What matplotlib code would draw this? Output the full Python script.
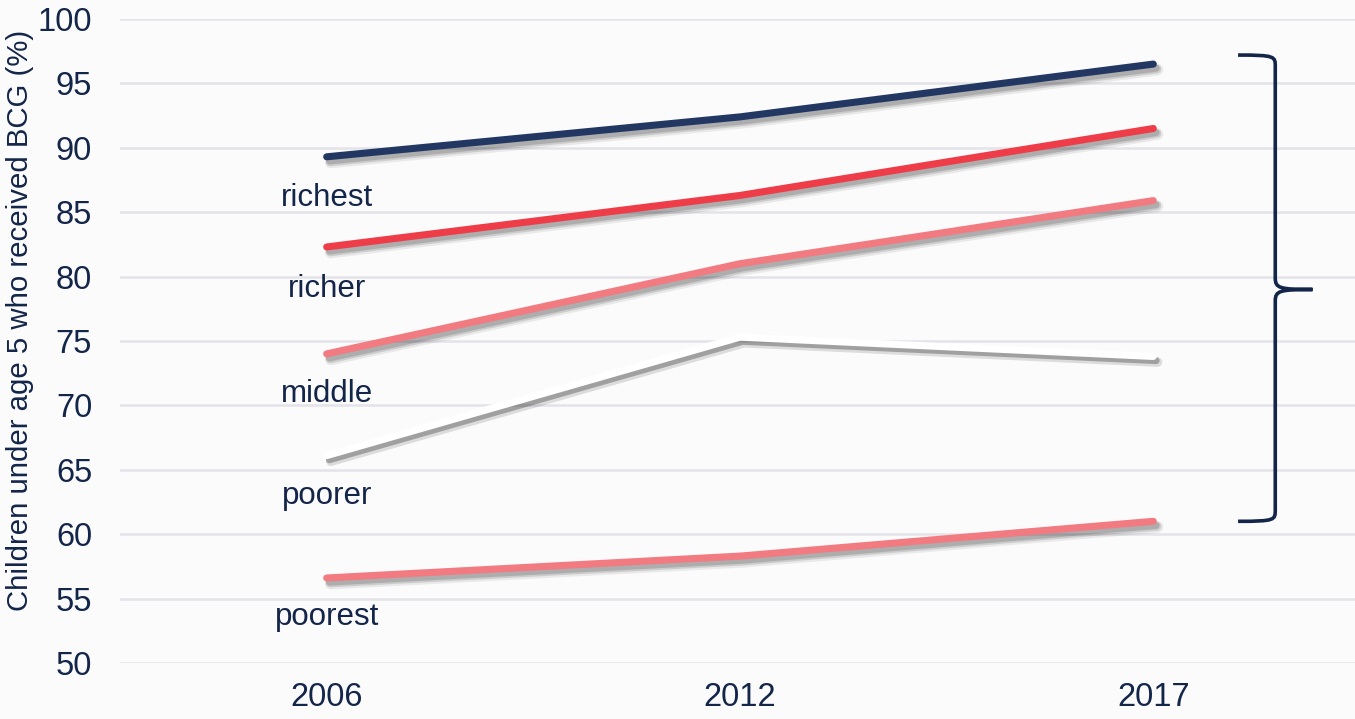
import matplotlib
matplotlib.use("Agg")
import matplotlib.pyplot as plt
from matplotlib import patheffects as pe
from matplotlib.path import Path
from matplotlib.patches import PathPatch

years = ["2006", "2012", "2017"]
groups = ["richest", "richer", "middle", "poorer", "poorest"]
richest = [89.3, 92.4, 96.5]
richer = [82.3, 86.3, 91.5]
middle = [74.0, 81.0, 85.9]
poorer = [66.1, 75.3, 73.8]
poorest = [56.6, 58.3, 61.0]
yticks = [50, 55, 60, 65, 70, 75, 80, 85, 90, 95, 100]

series = [richest, richer, middle, poorer, poorest]
colors = ["#223862", "#ee3d48", "#f27b81", "#ffffff", "#f27b81"]
# label y positions (data units) under the 2006 point of each line
label_y = [86.1, 79.0, 70.9, 63.0, 53.6]

text_color = "#14254a"
bg = "#fbfbfc"
plt.rcParams["font.family"] = ["Liberation Sans", "DejaVu Sans"]

fig = plt.figure(figsize=(13.55, 7.19), dpi=100, facecolor=bg)
ax = fig.add_axes([120 / 1355, 56 / 719, 1240 / 1355, 644 / 719])
ax.set_facecolor(bg)
ax.set_xlim(-0.5, 2.5)
ax.set_ylim(50, 100)
ax.set_yticks(yticks)
ax.set_xticks(range(len(years)))
ax.set_xticklabels(years)
ax.tick_params(axis="both", length=0, labelsize=23.5, labelcolor=text_color)
ax.tick_params(axis="y", pad=20)
ax.tick_params(axis="x", pad=14)
for s in ax.spines.values():
    s.set_visible(False)
ax.yaxis.grid(True, color="#e3e3e9", linewidth=1.8)
ax.set_axisbelow(True)
fig.text(20 / 1355, 399 / 719, "Children under age 5 who received BCG (%)",
         rotation=90, ha="center", va="center", fontsize=21.2, color=text_color)

shadow = [
    pe.SimpleLineShadow(offset=(3, -4), shadow_color="#000000", alpha=0.07, linewidth=8.5),
    pe.SimpleLineShadow(offset=(2.5, -3.5), shadow_color="#000000", alpha=0.12, linewidth=6.5),
    pe.SimpleLineShadow(offset=(2, -3), shadow_color="#000000", alpha=0.15, linewidth=5),
]
x = list(range(len(years)))
for vals, c in zip(series, colors):
    effects = list(shadow)
    if c == "#ffffff":
        effects = [
            pe.SimpleLineShadow(offset=(3, -4), shadow_color="#000000", alpha=0.12, linewidth=7),
            pe.SimpleLineShadow(offset=(2, -3), shadow_color="#000000", alpha=0.27, linewidth=5),
        ]
    ax.plot(x, vals, color=c, linewidth=5.1, solid_capstyle="round",
            solid_joinstyle="round", zorder=3,
            path_effects=effects + [pe.Normal()])

for name, yl in zip(groups, label_y):
    ax.text(0, yl, name, ha="center", va="center", fontsize=22.5, color=text_color)

# curly brace spanning the upper groups
top, bot = 97.2, 61.0
mid = 79.0
x0, x1, x2 = 2.205, 2.295, 2.385
r = 0.9
verts = [
    (x0, top), (x1, top), (x1, top - 0.1), (x1, top - r),
    (x1, mid + r),
    (x1, mid + 0.1), (x1 + 0.01, mid), (x2, mid),
    (x1 + 0.01, mid), (x1, mid - 0.1), (x1, mid - r),
    (x1, bot + r),
    (x1, bot + 0.1), (x1, bot), (x0, bot),
]
codes = [
    Path.MOVETO, Path.CURVE4, Path.CURVE4, Path.CURVE4,
    Path.LINETO,
    Path.CURVE4, Path.CURVE4, Path.CURVE4,
    Path.CURVE4, Path.CURVE4, Path.CURVE4,
    Path.LINETO,
    Path.CURVE4, Path.CURVE4, Path.CURVE4,
]
brace = PathPatch(Path(verts, codes), facecolor="none", edgecolor=text_color,
                  linewidth=2.6, clip_on=False, zorder=4)
ax.add_patch(brace)

fig.savefig("out.png", dpi=100, facecolor=bg)
